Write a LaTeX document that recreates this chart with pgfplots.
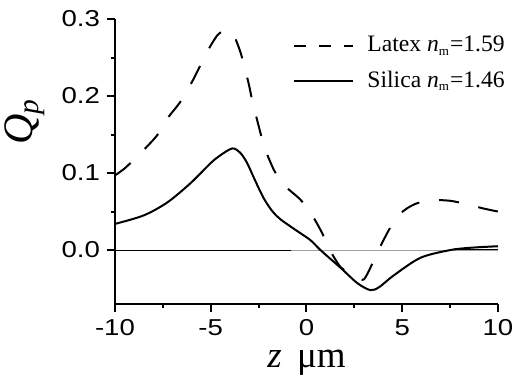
\documentclass[border=0pt]{standalone}
\usepackage{fontspec}
\usepackage{graphicx}
\usepackage{pgfplots}
\pgfplotsset{compat=1.18}
\setmainfont{Liberation Serif}
\newfontfamily\arialf{Liberation Sans}
\definecolor{zerogray}{RGB}{160,160,160}
\newcommand{\sm}{\textsubscript{\fontsize{6.5pt}{6.5pt}\selectfont m}}
\begin{document}
\begin{tikzpicture}
\useasboundingbox (-57.5pt,-37.5pt) rectangle (199.5pt,152pt);
\begin{axis}[
  at={(0pt,0pt)}, anchor=south west,
  scale only axis, width=191.5pt, height=142.5pt,
  xmin=-10, xmax=10, ymin=-0.07, ymax=0.3,
  axis x line=bottom, axis y line=left,
  axis line style={-, line width=1pt},
  every tick/.style={line width=1pt, black},
  tick align=outside,
  major tick length=4pt, minor tick length=2pt,
  xtick={-10,-5,0,5,10}, ytick={0,0.1,0.2,0.3},
  minor x tick num=1, minor y tick num=1,
  /pgf/number format/assume math mode=true,
  xticklabel={\scalebox{1.2}[1]{\pgfmathprintnumber{\tick}}},
  yticklabel={\scalebox{1.2}[1]{\pgfmathprintnumber[fixed,fixed zerofill,precision=1]{\tick}}},
  ticklabel style={font=\arialf\fontsize{11.5pt}{13pt}\selectfont},
  xticklabel style={inner sep=0pt, yshift=-3.5pt},
  xlabel={\textit{z}\, μm},
  ylabel={\textit{Q}\textsubscript{\textit{p}}},
  xlabel style={font=\fontsize{18.5pt}{21pt}\selectfont, at={(axis description cs:0.5,-0.222)}, anchor=base, inner sep=0pt},
  ylabel style={font=\fontsize{21pt}{24pt}\selectfont, at={(axis description cs:-0.235,0.64)}, anchor=center},
  legend style={at={(axis description cs:0.465,0.955)}, anchor=north west, draw=none, fill=none,
    font=\fontsize{11.8pt}{14pt}\selectfont, row sep=4pt, inner sep=0pt, column sep=4.5pt},
  legend cell align=left,
  legend image code/.code={\draw[#1] (0pt,0pt) -- (29.5pt,0pt);},
  clip=false,
]
% zero line
\addplot[zerogray, line width=0.5pt, forget plot] coordinates {(-0.8,0) (10,0)};
\addplot[black, line width=0.5pt, forget plot] coordinates {(-10,0) (-0.8,0)};
\addplot[black, line width=0.5pt, forget plot] coordinates {(7.5,0.0012) (10,0.0012)};
% Latex
\addplot[black, line width=1pt, dash pattern=on 10pt off 10pt, smooth, tension=0.4, forget plot] coordinates {
(-10,0.097) (-9.45,0.107) (-8.5,0.13) (-7.8,0.149) (-7.2,0.173) (-6.6,0.192) (-5.9,0.222)
(-5.2,0.257) (-4.65,0.279) (-4.2,0.286) (-3.8,0.279) (-3.45,0.257) (-3.2,0.234) (-3.0,0.214)
(-2.8,0.19) (-2.6,0.171) (-2.35,0.147) (-2.1,0.127) (-1.7,0.104) (-1.25,0.086) (-0.8,0.076)
(-0.3,0.065) (0.3,0.045) (0.82,0.022) (1.15,0.003) (1.78,-0.022) (2.56,-0.035) (3.0,-0.038)
(3.45,-0.017) (3.76,0.0) (4.3,0.026) (4.8,0.045) (5.3,0.055) (5.8,0.061) (6.58,0.065)
(7.5,0.064) (8.3,0.06) (9.24,0.054) (10,0.05)};
\addlegendimage{black, line width=1pt, dash pattern=on 6pt off 6.5pt}
\addlegendentry{Latex \textit{n}\sm=1.59}
% Silica
\addplot[black, line width=1pt, smooth, tension=0.5] coordinates {
(-10,0.034) (-8.5,0.045) (-7.26,0.062) (-6.05,0.087) (-5.0,0.113) (-4.5,0.123) (-3.87,0.132)
(-3.45,0.126) (-3.1,0.113) (-2.75,0.094) (-2.25,0.068) (-1.8,0.051) (-1.36,0.040) (-0.68,0.028)
(0.2,0.013) (0.73,0.0) (1.78,-0.023) (2.66,-0.043) (3.34,-0.052) (3.8,-0.048) (4.55,-0.033)
(5.95,-0.01) (7.5,0.0) (8.56,0.003) (10,0.005)};
\addlegendentry{Silica \textit{n}\sm=1.46}
\end{axis}
\end{tikzpicture}
\end{document}
